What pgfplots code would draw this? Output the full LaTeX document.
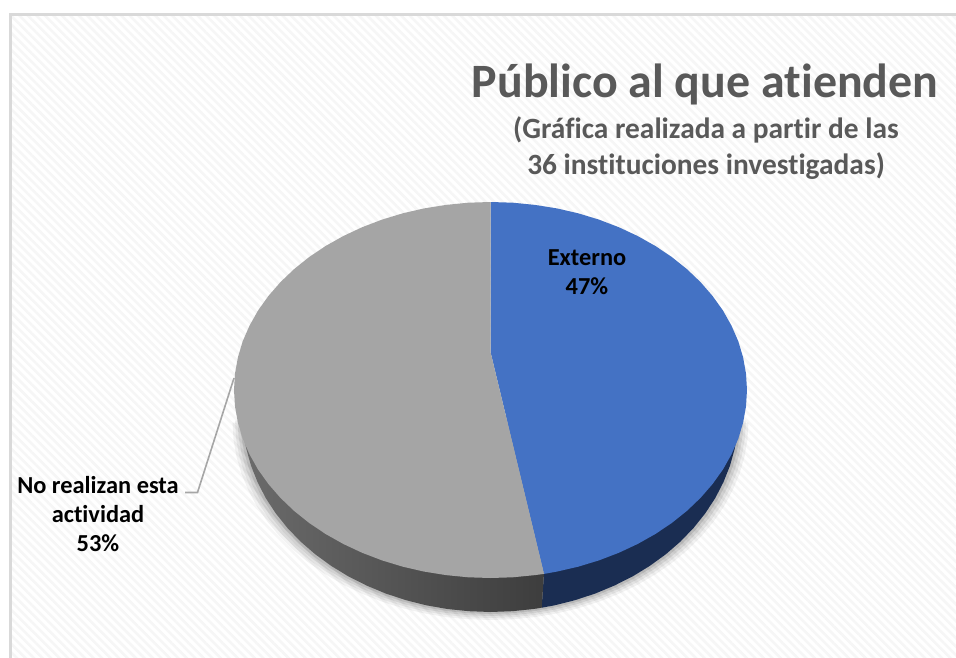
\documentclass[border=0pt]{standalone}
\usepackage{fontspec}
\setmainfont{Carlito}[Ligatures=NoCommon]
\usepackage{pgfplots}
\usepackage{pgfplotstable}
\pgfplotsset{compat=1.18}
\usetikzlibrary{patterns.meta}
\definecolor{blueTop}{HTML}{4472C4}
\definecolor{blueSide}{HTML}{1A2D52}
\definecolor{grayTop}{HTML}{A5A5A5}
\definecolor{titleGray}{HTML}{595959}
\definecolor{frameGray}{HTML}{D9D9D9}
\definecolor{hatch}{HTML}{F6F6F6}
\definecolor{leader}{HTML}{A6A6A6}
\pgfplotstableread{
x y
738.5 414.5
737.6 431.7
734.7 448.8
730 465.6
723.5 482
715.3 498
705.3 513.25
693.7 527.8
680.5 541.5
665.9 554.2
649.9 565.8
632.8 576.3
614.5 585.5
595.3 593.5
575.3 600.1
554.7 605.3
533.6 609.0
512.1 611.2
490.5 612
468.9 611.2
447.4 609
426.3 605.3
405.7 600.1
385.7 593.5
366.5 585.5
348.2 576.3
331.1 565.8
315.1 554.2
300.5 541.5
287.3 527.8
275.7 513.25
265.7 498
257.5 482
251 465.6
246.3 448.8
243.4 431.7
242.5 414.5
}\rim
\begin{document}
\begin{tikzpicture}
\begin{axis}[
  width=956pt, height=658pt, scale only axis, hide axis,
  xmin=0, xmax=956, ymin=0, ymax=658, y dir=reverse,
  clip=true,
]
% background
\fill[white] (axis cs:0,0) rectangle (axis cs:956,658);
\fill[pattern={Lines[angle=-45,distance=6pt,line width=2.5pt]},pattern color=hatch]
  (axis cs:12,16) rectangle (axis cs:956,658);
\addplot[draw=frameGray,line width=2.5pt] coordinates {(10.7,658) (10.7,14.5) (956,14.5)};
% soft shadow
\addplot[fill=black,fill opacity=0.05,draw=none] table[x expr={490.5+(\thisrow{x}-490.5)*1.04},y expr={\thisrow{y}+8}] {\rim} --cycle;
\addplot[fill=black,fill opacity=0.06,draw=none] table[x expr={490.5+(\thisrow{x}-490.5)*1.03},y expr={\thisrow{y}+6}] {\rim} --cycle;
\addplot[fill=black,fill opacity=0.08,draw=none] table[x expr={490.5+(\thisrow{x}-490.5)*1.02},y expr={\thisrow{y}+4}] {\rim} --cycle;
\addplot[fill=black,fill opacity=0.10,draw=none] table[x expr={490.5+(\thisrow{x}-490.5)*1.01},y expr={\thisrow{y}+2}] {\rim} --cycle;
% side walls
\addplot[fill=blueSide,draw=none] coordinates {
(544,573) (541.7,607.7) (554.7,605.3) (575.3,600.1) (595.3,593.5) (614.5,585.5) (632.8,576.3)
(649.9,565.8) (665.9,554.2) (680.5,541.5) (693.7,527.8) (705.3,513.25) (715.3,498) (723.5,482)
(730,465.6) (734.7,448.8) (737.6,431.7) (738.5,414.5) (700,400)
} --cycle;
\addplot[left color=black!58,right color=black!76,draw=none] coordinates {
(544,573) (541.7,607.7) (533.6,609) (512.1,611.2) (490.5,612) (468.9,611.2) (447.4,609) (426.3,605.3)
(405.7,600.1) (385.7,593.5) (366.5,585.5) (348.2,576.3) (331.1,565.8) (315.1,554.2) (300.5,541.5)
(287.3,527.8) (275.7,513.25) (265.7,498) (257.5,482) (251,465.6) (246.3,448.8) (243.4,431.7)
(242.5,414.5) (300,400)
} --cycle;
% top: 47 % Externo
\addplot[fill=blueTop,draw=none] coordinates {
(490.5,352) (490.5,202) (512.9,202.7) (535,204.9) (556.9,208.4) (578.2,213.3) (598.9,219.6) (618.8,227.2)
(637.6,236) (655.4,246) (671.9,257.1) (687,269.2) (700.6,282.2) (712.6,296) (723,310.6) (731.5,325.7)
(738.3,341.3) (743.1,357.4) (746,373.6) (747,390) (746,406.4) (743.1,422.6) (738.3,438.7) (731.5,454.3)
(723,469.4) (712.6,484) (700.6,497.8) (687,510.8) (671.9,522.9) (655.4,534) (637.6,544) (618.8,552.8)
(598.9,560.4) (578.2,566.7) (556.9,571.6) (544,573.9)
} --cycle;
% top: 53 % No realizan esta actividad
\addplot[fill=grayTop,draw=none] coordinates {
(490.5,352) (544,573.9) (535,575.1) (512.9,577.3) (490.5,578) (468.1,577.3) (446,575.1) (424.1,571.6)
(402.8,566.7) (382.1,560.4) (362.2,552.8) (343.4,544) (325.6,534) (309.1,522.9) (294,510.8) (280.4,497.8)
(268.4,484) (258,469.4) (249.5,454.3) (242.7,438.7) (237.9,422.6) (235,406.4) (234,390) (235,373.6)
(237.9,357.4) (242.7,341.3) (249.5,325.7) (258,310.6) (268.4,296) (280.4,282.2) (294,269.2) (309.1,257.1)
(325.6,246) (343.4,236) (362.2,227.2) (382.1,219.6) (402.8,213.3) (424.1,208.4) (446,204.9) (468.1,202.7)
(490.5,202)
} --cycle;
% leader
\addplot[draw=leader,line width=1.6pt] coordinates {(234,378) (197.5,492.5) (185,492.5)};
% texts
\node[text=titleGray,font=\bfseries\fontsize{47.9}{50}\selectfont,anchor=center] at (axis cs:705,84) {Público al que atienden};
\node[text=titleGray,font=\bfseries\fontsize{29.4}{36}\selectfont,align=center,anchor=center] at (axis cs:706,148)
  {(Gráfica realizada a partir de las\\36 instituciones investigadas)};
\node[text=black,font=\bfseries\fontsize{24.4}{29}\selectfont,align=center,anchor=center] at (axis cs:587,272) {Externo\\47\%};
\node[text=black,font=\bfseries\fontsize{24.4}{29}\selectfont,align=center,anchor=center] at (axis cs:98,514) {No realizan esta\\actividad\\53\%};
\end{axis}
\end{tikzpicture}
\end{document}
